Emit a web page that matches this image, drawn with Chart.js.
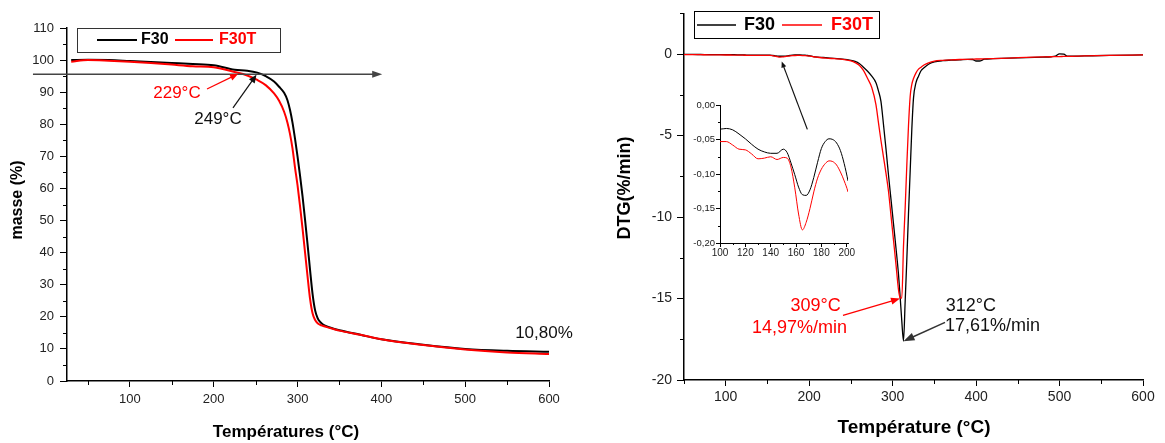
<!DOCTYPE html>
<html><head><meta charset="utf-8">
<script src="https://cdn.jsdelivr.net/npm/chart.js@4.4.1/dist/chart.umd.min.js"></script>
<style>
html,body{margin:0;padding:0;background:#fff;}
#wrap{position:relative;width:1165px;height:443px;overflow:hidden;background:#fff;}
canvas{position:absolute;}
</style></head><body>
<div id="wrap">
<canvas id="tga" width="600" height="443" style="left:0;top:0"></canvas>
<canvas id="dtg" width="565" height="443" style="left:600px;top:0"></canvas>
<canvas id="inset" width="180" height="170" style="left:680px;top:95px"></canvas>
</div>
<script>
// ---------------- DATA ----------------
const seriesNames = ['F30', 'F30T'];

// TGA (left panel): temperature (°C) and mass (%)
const tgaTemp = [30, 50, 75, 100, 125, 150, 175, 200, 225, 240, 252, 262, 272, 278, 284, 288, 291,
  294, 297, 300, 303, 306, 309, 312, 315, 318, 321, 324, 327, 330,
  335, 343, 350, 375, 400, 450, 500, 550, 600];
const tgaF30 = [100.0, 100.1, 100.0, 99.7, 99.4, 99.1, 98.8, 98.4, 97.0, 96.7, 96.1, 95.0, 93.3, 91.7, 89.8, 87.5, 84.5,
  80.5, 75.5, 70.0, 64.0, 57.5, 50.2, 42.5, 34.5, 27.0, 22.0, 19.6, 18.4, 17.7,
  17.0, 16.3, 15.8, 14.4, 13.0, 11.3, 10.0, 9.4, 9.1];
const tgaF30T = [99.5, 100.0, 99.8, 99.5, 99.1, 98.6, 98.1, 97.8, 96.3, 95.2, 93.8, 92.2, 89.6, 87.3, 83.9, 80.5, 77.0,
  72.5, 66.5, 61.0, 54.5, 47.5, 40.0, 32.5, 25.5, 21.0, 19.0, 18.0, 17.5, 17.2,
  16.8, 16.2, 15.7, 14.4, 13.0, 11.2, 9.8, 8.9, 8.4];

// DTG (right panel + inset): temperature (°C) and DTG (%/min)
const dtgTemp = [50, 60, 70, 80, 90,
  100, 105, 110, 115, 120, 125, 130, 135, 140, 145, 150,
  153, 156, 159, 162, 165, 168, 171, 174, 177, 180, 183, 186, 189, 192, 195, 198, 201,
  205, 210, 220, 230, 240, 250, 255, 260, 265, 270, 275, 280,
  283, 286, 289, 292, 295, 298, 301, 304, 307,
  309, 311, 313, 315, 317, 319, 321, 323, 325,
  328, 331, 334,
  338, 343, 350, 360, 370, 380, 390, 396, 400, 404, 410, 420, 440, 460, 480, 490, 495, 500, 505, 510, 530, 560, 600];
const dtgF30 = [-0.02, -0.02, -0.024, -0.028, -0.032,
  -0.035, -0.034, -0.036, -0.042, -0.049, -0.057, -0.064, -0.068, -0.070, -0.070, -0.064,
  -0.069, -0.084, -0.101, -0.119, -0.130, -0.131, -0.123, -0.105, -0.083, -0.063, -0.053, -0.049, -0.050, -0.055, -0.066, -0.085, -0.110,
  -0.15, -0.18, -0.22, -0.26, -0.30, -0.38, -0.45, -0.58, -0.80, -1.05, -1.35, -1.75,
  -2.25, -2.9, -4.3, -5.8, -7.4, -8.9, -10.4, -11.9, -13.5,
  -14.9, -16.4, -17.61, -15.2, -12.6, -9.8, -7.2, -4.6, -2.7,
  -1.75, -1.35, -1.02,
  -0.82, -0.62, -0.48, -0.40, -0.37, -0.35, -0.32, -0.33, -0.42, -0.42, -0.31, -0.28, -0.25, -0.21, -0.18, -0.16, -0.12, 0.02, 0.0, -0.13, -0.11, -0.08, -0.05];
const dtgF30T = [-0.03, -0.03, -0.035, -0.04, -0.047,
  -0.053, -0.053, -0.058, -0.064, -0.065, -0.071, -0.078, -0.077, -0.075, -0.079, -0.076,
  -0.077, -0.090, -0.120, -0.158, -0.181, -0.170, -0.150, -0.126, -0.106, -0.093, -0.085, -0.081, -0.082, -0.087, -0.097, -0.110, -0.126,
  -0.16, -0.19, -0.24, -0.28, -0.32, -0.42, -0.52, -0.68, -1.0, -1.5, -2.05, -3.1,
  -4.2, -5.3, -6.3, -7.3, -8.4, -9.9, -11.4, -12.9, -14.45,
  -14.95, -14.97, -11.8, -9.45, -6.8, -4.4, -2.6, -1.85, -1.5,
  -1.15, -0.92, -0.8,
  -0.65, -0.53, -0.43, -0.38, -0.35, -0.33, -0.32, -0.31, -0.30, -0.30, -0.29, -0.27, -0.24, -0.20, -0.17, -0.16, -0.15, -0.15, -0.14, -0.14, -0.11, -0.08, -0.05];

// Tick values
const tgaXTicks = [100, 200, 300, 400, 500, 600];
const tgaXMinor = [50, 150, 250, 350, 450, 550];
const tgaYTicks = [0, 10, 20, 30, 40, 50, 60, 70, 80, 90, 100, 110];
const tgaYMinor = [5, 15, 25, 35, 45, 55, 65, 75, 85, 95, 105];
const dtgXTicks = [100, 200, 300, 400, 500, 600];
const dtgXMinor = [50, 150, 250, 350, 450, 550];
const dtgYTicks = [0, -5, -10, -15, -20];
const dtgYMinor = [2.5, -2.5, -7.5, -12.5, -17.5];
const insetXTicks = [100, 120, 140, 160, 180, 200];
const insetXMinor = [110, 130, 150, 170, 190];
const insetYTicks = [0, -0.05, -0.10, -0.15, -0.20];
const insetYMinor = [-0.025, -0.075, -0.125, -0.175];

// ---------------- HELPERS ----------------
const FONT = '"Liberation Sans", Arial, Helvetica, sans-serif';
const BLACK = '#000000', RED = '#ff0000';
const pts = (xs, ys) => xs.map((x, i) => ({x: x, y: ys[i]}));

function axis(c) {
  return {
    type: 'linear', min: c.min, max: c.max,
    afterBuildTicks: s => { s.ticks = c.ticks.map(v => ({value: v})); },
    afterFit: s => { if (c.h !== undefined) s.height = c.h; else s.width = c.w; },
    grid: {display: true, drawOnChartArea: false, drawTicks: true, tickLength: c.tl,
           tickColor: '#000', tickWidth: 1, color: '#000'},
    border: {display: true, color: '#000', width: c.bw || 1.5},
    ticks: {font: {family: FONT, size: c.fs}, color: '#222', padding: c.pad,
            autoSkip: false, maxRotation: 0, callback: c.fmt || (v => String(v))}
  };
}

const minorTicks = {
  id: 'minorTicks',
  afterDraw(chart, args, o) {
    const ctx = chart.ctx, sx = chart.scales.x, sy = chart.scales.y, a = chart.chartArea;
    ctx.save(); ctx.strokeStyle = '#000'; ctx.lineWidth = 1;
    (o.x || []).forEach(v => {
      const p = Math.round(sx.getPixelForValue(v)) + 0.5;
      ctx.beginPath(); ctx.moveTo(p, a.bottom); ctx.lineTo(p, a.bottom + o.len); ctx.stroke();
    });
    (o.y || []).forEach(v => {
      const p = Math.round(sy.getPixelForValue(v)) + 0.5;
      ctx.beginPath(); ctx.moveTo(a.left, p); ctx.lineTo(a.left - o.len, p); ctx.stroke();
    });
    ctx.restore();
  }
};

const boxLegend = {
  id: 'boxLegend',
  afterDraw(chart, args, o) {
    if (!o.box) return;
    const ctx = chart.ctx;
    ctx.save();
    ctx.fillStyle = '#fff';
    ctx.fillRect(o.box[0], o.box[1], o.box[2] - o.box[0], o.box[3] - o.box[1]);
    ctx.lineWidth = 1; ctx.strokeStyle = o.border;
    ctx.strokeRect(o.box[0] + 0.5, o.box[1] + 0.5, o.box[2] - o.box[0], o.box[3] - o.box[1]);
    ctx.font = 'bold ' + o.size + 'px ' + FONT; ctx.textBaseline = 'middle'; ctx.textAlign = 'left';
    chart.data.datasets.forEach((ds, i) => {
      const it = o.items[i];
      ctx.strokeStyle = ds.borderColor; ctx.lineWidth = o.lw;
      ctx.beginPath(); ctx.moveTo(it.s0, o.y); ctx.lineTo(it.s1, o.y); ctx.stroke();
      ctx.fillStyle = ds.borderColor; ctx.fillText(ds.label, it.tx, o.ty);
    });
    ctx.restore();
  }
};

const notes = {
  id: 'notes',
  afterDraw(chart, args, o) {
    const ctx = chart.ctx, sx = chart.scales.x, sy = chart.scales.y;
    const px = v => sx.getPixelForValue(v), py = v => sy.getPixelForValue(v);
    ctx.save();
    (o.arrows || []).forEach(a => {
      const x1 = px(a.from[0]), y1 = py(a.from[1]), x2 = px(a.to[0]), y2 = py(a.to[1]);
      const ang = Math.atan2(y2 - y1, x2 - x1), L = a.head, W = a.hw;
      const c = Math.cos(ang), s = Math.sin(ang);
      ctx.strokeStyle = a.color; ctx.fillStyle = a.color; ctx.lineWidth = a.width;
      ctx.beginPath(); ctx.moveTo(x1, y1); ctx.lineTo(x2 - c * L * 0.7, y2 - s * L * 0.7); ctx.stroke();
      ctx.beginPath(); ctx.moveTo(x2, y2);
      ctx.lineTo(x2 - L * c + W * s, y2 - L * s - W * c);
      ctx.lineTo(x2 - L * c - W * s, y2 - L * s + W * c);
      ctx.closePath(); ctx.fill();
    });
    (o.texts || []).forEach(t => {
      ctx.font = t.size + 'px ' + FONT;
      ctx.fillStyle = t.color; ctx.textAlign = t.align || 'center'; ctx.textBaseline = 'middle';
      ctx.fillText(t.text, px(t.at[0]), py(t.at[1]));
    });
    (o.titles || []).forEach(t => {
      ctx.save(); ctx.translate(t.x, t.y); ctx.rotate(t.rot || 0);
      ctx.font = 'bold ' + t.size + 'px ' + FONT; ctx.fillStyle = '#000';
      ctx.textAlign = 'center'; ctx.textBaseline = 'middle';
      ctx.fillText(t.text, 0, 0); ctx.restore();
    });
    ctx.restore();
  }
};

function lineSet(label, xs, ys, color, width, order) {
  return {label: label, data: pts(xs, ys), borderColor: color, backgroundColor: color,
          borderWidth: width, pointRadius: 0, fill: false, order: order,
          cubicInterpolationMode: 'monotone', borderJoinStyle: 'round'};
}

const baseOpts = {responsive: false, animation: false, devicePixelRatio: 1,
                  events: [], plugins: {legend: {display: false}, tooltip: {enabled: false}}};

// ---------------- LEFT: TGA ----------------
new Chart(document.getElementById('tga'), {
  type: 'line',
  data: {datasets: [
    lineSet(seriesNames[0], tgaTemp, tgaF30, BLACK, 2, 2),
    lineSet(seriesNames[1], tgaTemp, tgaF30T, RED, 2, 1)
  ]},
  plugins: [minorTicks, notes, boxLegend],
  options: Object.assign({}, baseOpts, {
    layout: {padding: {left: 0, top: 28, right: 51, bottom: 0}},
    scales: {
      x: axis({min: 25, max: 600, ticks: tgaXTicks, h: 62, tl: 6, fs: 13, pad: 5}),
      y: axis({min: 0, max: 110, ticks: tgaYTicks, w: 67, tl: 7, fs: 13, pad: 6})
    },
    plugins: Object.assign({}, baseOpts.plugins, {
      minorTicks: {x: tgaXMinor, y: tgaYMinor, len: 4},
      boxLegend: {box: [77, 28, 280, 52], border: '#333', size: 16, lw: 2, y: 40, ty: 40,
                  items: [{s0: 97, s1: 137, tx: 141}, {s0: 175, s1: 213, tx: 219}]},
      notes: {
        arrows: [
          {from: [-15.6, 95.6], to: [401, 95.6], color: '#444', width: 1.4, head: 10, hw: 3.5},
          {from: [192, 91.0], to: [229, 95.7], color: RED, width: 1.2, head: 8, hw: 3.5},
          {from: [223, 85.1], to: [251, 95.4], color: '#111', width: 1.2, head: 8, hw: 3.5}
        ],
        texts: [
          {text: '229°C', at: [156.2, 89.7], size: 17, color: RED},
          {text: '249°C', at: [205.1, 81.6], size: 17, color: '#111'},
          {text: '10,80%', at: [594, 15.0], size: 17, color: '#111'}
        ],
        titles: [
          {text: 'Températures (°C)', x: 286, y: 432, size: 17},
          {text: 'masse (%)', x: 18, y: 200, size: 16, rot: -Math.PI / 2}
        ]
      }
    })
  })
});

// ---------------- RIGHT: DTG ----------------
new Chart(document.getElementById('dtg'), {
  type: 'line',
  data: {datasets: [
    lineSet(seriesNames[0], dtgTemp, dtgF30, BLACK, 1.3, 2),
    lineSet(seriesNames[1], dtgTemp, dtgF30T, RED, 1.3, 1)
  ]},
  plugins: [minorTicks, notes, boxLegend],
  options: Object.assign({}, baseOpts, {
    layout: {padding: {left: 0, top: 11, right: 22, bottom: 0}},
    scales: {
      x: axis({min: 50, max: 600, ticks: dtgXTicks, h: 63, tl: 6, fs: 14, pad: 3}),
      y: axis({min: -20, max: 2.5, ticks: dtgYTicks, w: 84, tl: 7, fs: 14, pad: 5})
    },
    plugins: Object.assign({}, baseOpts.plugins, {
      minorTicks: {x: dtgXMinor, y: dtgYMinor, len: 4},
      boxLegend: {box: [94, 11, 279, 38], border: '#000', size: 18, lw: 1.5, y: 25, ty: 25.5,
                  items: [{s0: 97, s1: 136, tx: 144}, {s0: 182, s1: 222, tx: 231}]},
      notes: {
        arrows: [
          {from: [197.8, -4.62], to: [167.1, -0.45], color: '#111', width: 1.2, head: 6, hw: 2.5},
          {from: [240.5, -16.04], to: [308.8, -15.0], color: RED, width: 1.3, head: 9, hw: 3.5},
          {from: [362.8, -16.46], to: [313, -17.62], color: '#333', width: 1.5, head: 11, hw: 4}
        ],
        texts: [
          {text: '309°C', at: [237.7, -15.49], size: 18, color: RED, align: 'right'},
          {text: '14,97%/min', at: [245.3, -16.83], size: 18, color: RED, align: 'right'},
          {text: '312°C', at: [363.6, -15.43], size: 18, color: '#111', align: 'left'},
          {text: '17,61%/min', at: [362.8, -16.71], size: 18, color: '#111', align: 'left'}
        ],
        titles: [
          {text: 'Température (°C)', x: 314, y: 428, size: 19},
          {text: 'DTG(%/min)', x: 25, y: 188, size: 18, rot: -Math.PI / 2}
        ]
      }
    })
  })
});

// ---------------- INSET ----------------
new Chart(document.getElementById('inset'), {
  type: 'line',
  data: {datasets: [
    lineSet(seriesNames[0], dtgTemp, dtgF30, BLACK, 1, 2),
    lineSet(seriesNames[1], dtgTemp, dtgF30T, RED, 1, 1)
  ]},
  plugins: [minorTicks],
  options: Object.assign({}, baseOpts, {
    layout: {padding: {left: 0, top: 10, right: 12, bottom: 0}},
    scales: {
      x: axis({min: 100, max: 201, ticks: insetXTicks, h: 22, tl: 4, fs: 10, pad: 0, bw: 1}),
      y: axis({min: -0.2, max: 0, ticks: insetYTicks, w: 40, tl: 4, fs: 9.5, pad: 1, bw: 1,
               fmt: v => v.toFixed(2).replace('.', ',')})
    },
    plugins: Object.assign({}, baseOpts.plugins, {
      minorTicks: {x: insetXMinor, y: insetYMinor, len: 2}
    })
  })
});
</script>
</body></html>
